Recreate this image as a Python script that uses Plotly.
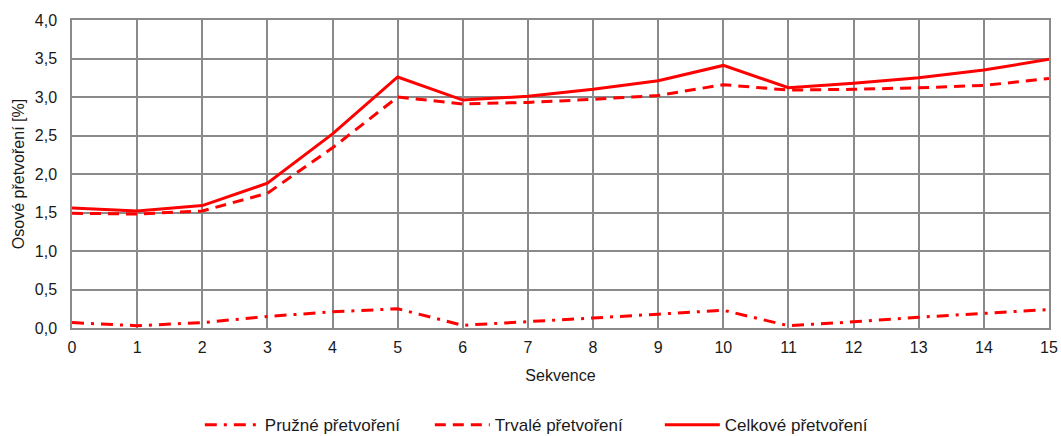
import plotly.graph_objects as go

sekvence = list(range(16))
pruzne = [0.07, 0.03, 0.07, 0.15, 0.21, 0.25, 0.035, 0.08, 0.13, 0.18, 0.23, 0.03, 0.08, 0.14, 0.19, 0.24]
trvale = [1.49, 1.48, 1.52, 1.75, 2.34, 3.00, 2.91, 2.93, 2.97, 3.02, 3.16, 3.09, 3.10, 3.12, 3.15, 3.24]
celkove = [1.56, 1.52, 1.59, 1.88, 2.52, 3.26, 2.96, 3.01, 3.10, 3.21, 3.41, 3.12, 3.18, 3.25, 3.35, 3.49]
y_ticks = [0.0, 0.5, 1.0, 1.5, 2.0, 2.5, 3.0, 3.5, 4.0]

RED = "#ff0000"
GRID = "#8a8a8a"
CLEAR = "rgba(0,0,0,0)"

fig = go.Figure()
fig.add_trace(go.Scatter(x=sekvence, y=pruzne, mode="lines", name="Pružné přetvoření",
                         line=dict(color=RED, width=3, dash="12px,7px,3px,7px")))
fig.add_trace(go.Scatter(x=sekvence, y=trvale, mode="lines", name="Trvalé přetvoření",
                         line=dict(color=RED, width=3, dash="11px,7px")))
fig.add_trace(go.Scatter(x=sekvence, y=celkove, mode="lines", name="Celkové přetvoření",
                         line=dict(color=RED, width=3)))

fig.update_layout(
    width=1061, height=436,
    margin=dict(l=72, r=12, t=20, b=108, autoexpand=False),
    paper_bgcolor="white", plot_bgcolor="white",
    separators=", ",
    font=dict(family="Liberation Sans, Arial, sans-serif", size=16, color="#1a1a1a"),
    showlegend=True,
    legend=dict(orientation="h", x=0.5135, xanchor="center", xref="container",
                y=0.025, yanchor="middle", yref="container",
                font=dict(size=17), itemwidth=55,
                entrywidth=160, entrywidthmode="pixels"),
)
fig.update_xaxes(range=[0, 15], tickmode="array", tickvals=sekvence,
                 tickfont=dict(size=16),
                 showgrid=True, gridcolor=GRID, gridwidth=1.5,
                 showline=True, linecolor=GRID, linewidth=1.5, mirror=True,
                 zeroline=False, ticks="outside", ticklen=4, tickcolor=CLEAR,
                 automargin=False,
                 title=dict(text="Sekvence", font=dict(size=16), standoff=15))
fig.update_yaxes(range=[0, 4], tickmode="array", tickvals=y_ticks, tickformat=".1f",
                 tickfont=dict(size=16),
                 showgrid=True, gridcolor=GRID, gridwidth=1.5,
                 showline=True, linecolor=GRID, linewidth=1.5, mirror=True,
                 zeroline=False, ticks="outside", ticklen=10, tickcolor=CLEAR,
                 automargin=False,
                 title=dict(text="Osové přetvoření [%]", font=dict(size=16), standoff=6))

fig.write_html(
    "out.html",
    config={"displayModeBar": False},
    post_script="document.body.style.margin='0';document.body.style.overflow='hidden';",
)
